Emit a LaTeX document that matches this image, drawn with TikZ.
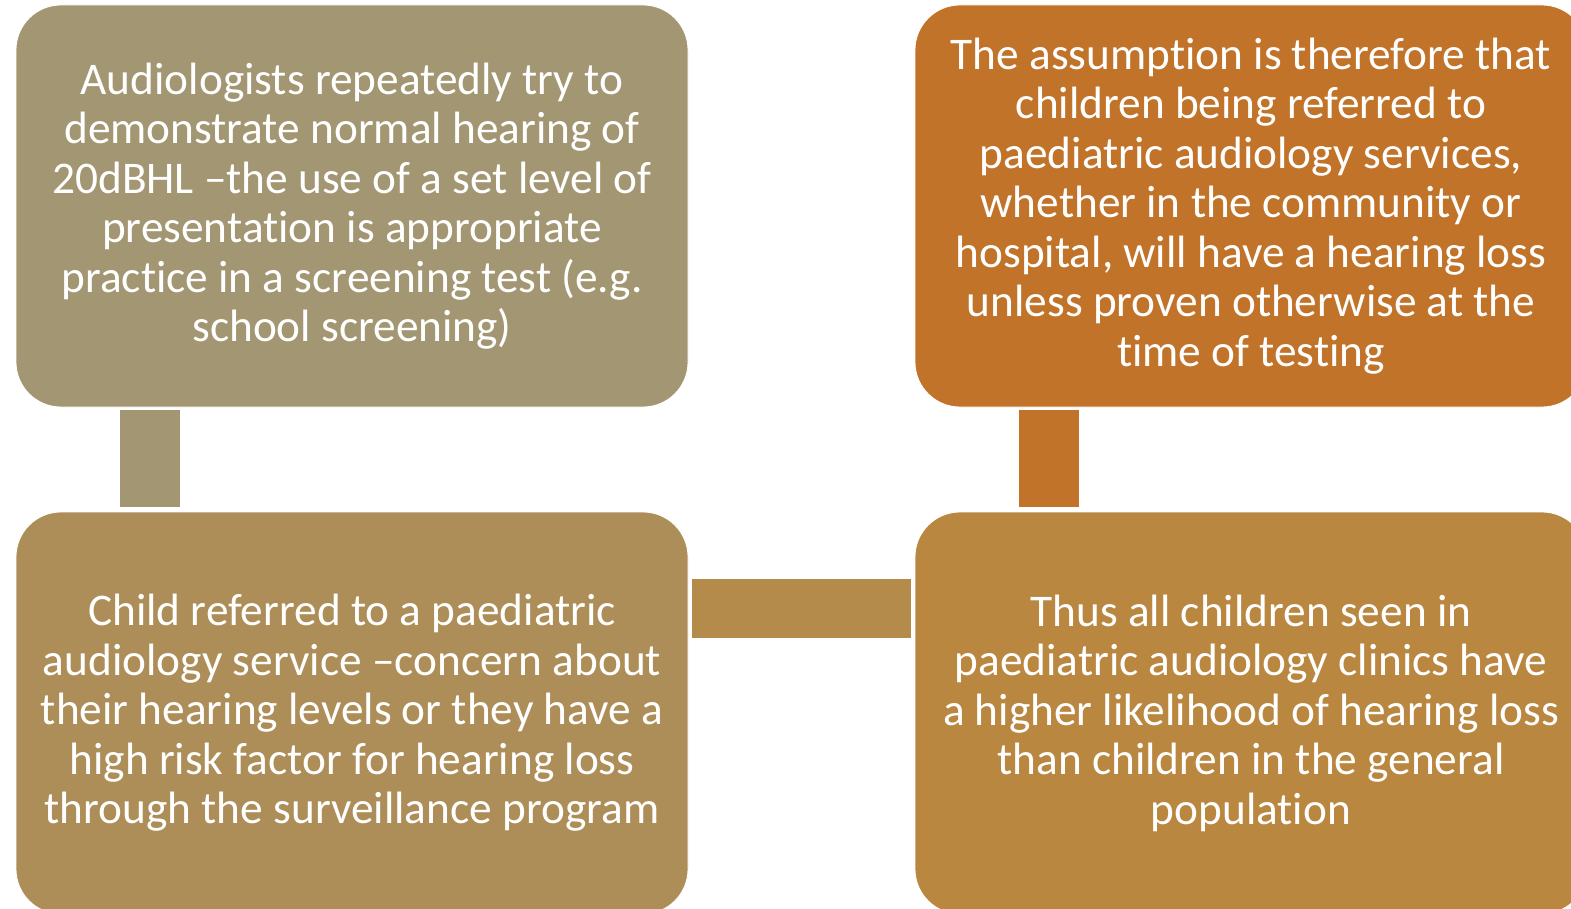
\documentclass[tikz,border=0pt]{standalone}
\usepackage{fontspec}
\setmainfont{Carlito}[Ligatures=CommonOff,RawFeature={-liga;-clig}]
\usepackage{tikz}
\usetikzlibrary{calc}

\definecolor{audgray}{HTML}{A39672}
\definecolor{assumeorange}{HTML}{C17329}
\definecolor{childtan}{HTML}{AE8E58}
\definecolor{thusochre}{HTML}{BA8740}
\definecolor{linktan}{HTML}{B48B4A}

\begin{document}
\begin{tikzpicture}[
    x=1pt, y=-1pt,
    box/.style={draw=white,line width=0.8pt,rounded corners=45pt,
                minimum width=672pt,minimum height=402pt,inner sep=0pt,
                align=center,text=white,font=\fontsize{45.3}{49.5}\selectfont},
    bar/.style={draw=white,line width=0.8pt},
  ]
  \useasboundingbox (0,0) rectangle (1571,909);
  \clip (0,0) rectangle (1571,909);

  % --- the four statements (right column runs past the page edge) ---
  \node[box,fill=audgray] (audiol) at (352,206) {Audiologists repeatedly try to\\
    demonstrate normal hearing of\\20dBHL --the use of a set level of\\
    presentation is appropriate\\practice in a screening test (e.g.\\school screening)};
  \node[box,fill=assumeorange] (assume) at (1251,206) {The assumption is therefore that\\
    children being referred to\\paediatric audiology services,\\whether in the community or\\
    hospital, will have a hearing loss\\unless proven otherwise at the\\time of testing};
  \node[box,fill=childtan] (child) at (352,713) {Child referred to a paediatric\\
    audiology service --concern about\\their hearing levels or they have a\\
    high risk factor for hearing loss\\through the surveillance program};
  \node[box,fill=thusochre] (thus) at (1251,713) {Thus all children seen in\\
    paediatric audiology clinics have\\a higher likelihood of hearing loss\\
    than children in the general\\population};

  % --- connecting bars ---
  \draw[bar,fill=audgray] ($(audiol.south)+(-232.5,2)$) rectangle ($(child.north)+(-171.5,-4)$);
  \draw[bar,fill=assumeorange] ($(assume.south)+(-232.5,2)$) rectangle ($(thus.north)+(-171.5,-4)$);
  \draw[bar,fill=linktan] ($(child.east)+(3,-135)$) rectangle ($(thus.west)+(-3,-75)$);

\end{tikzpicture}
\end{document}
